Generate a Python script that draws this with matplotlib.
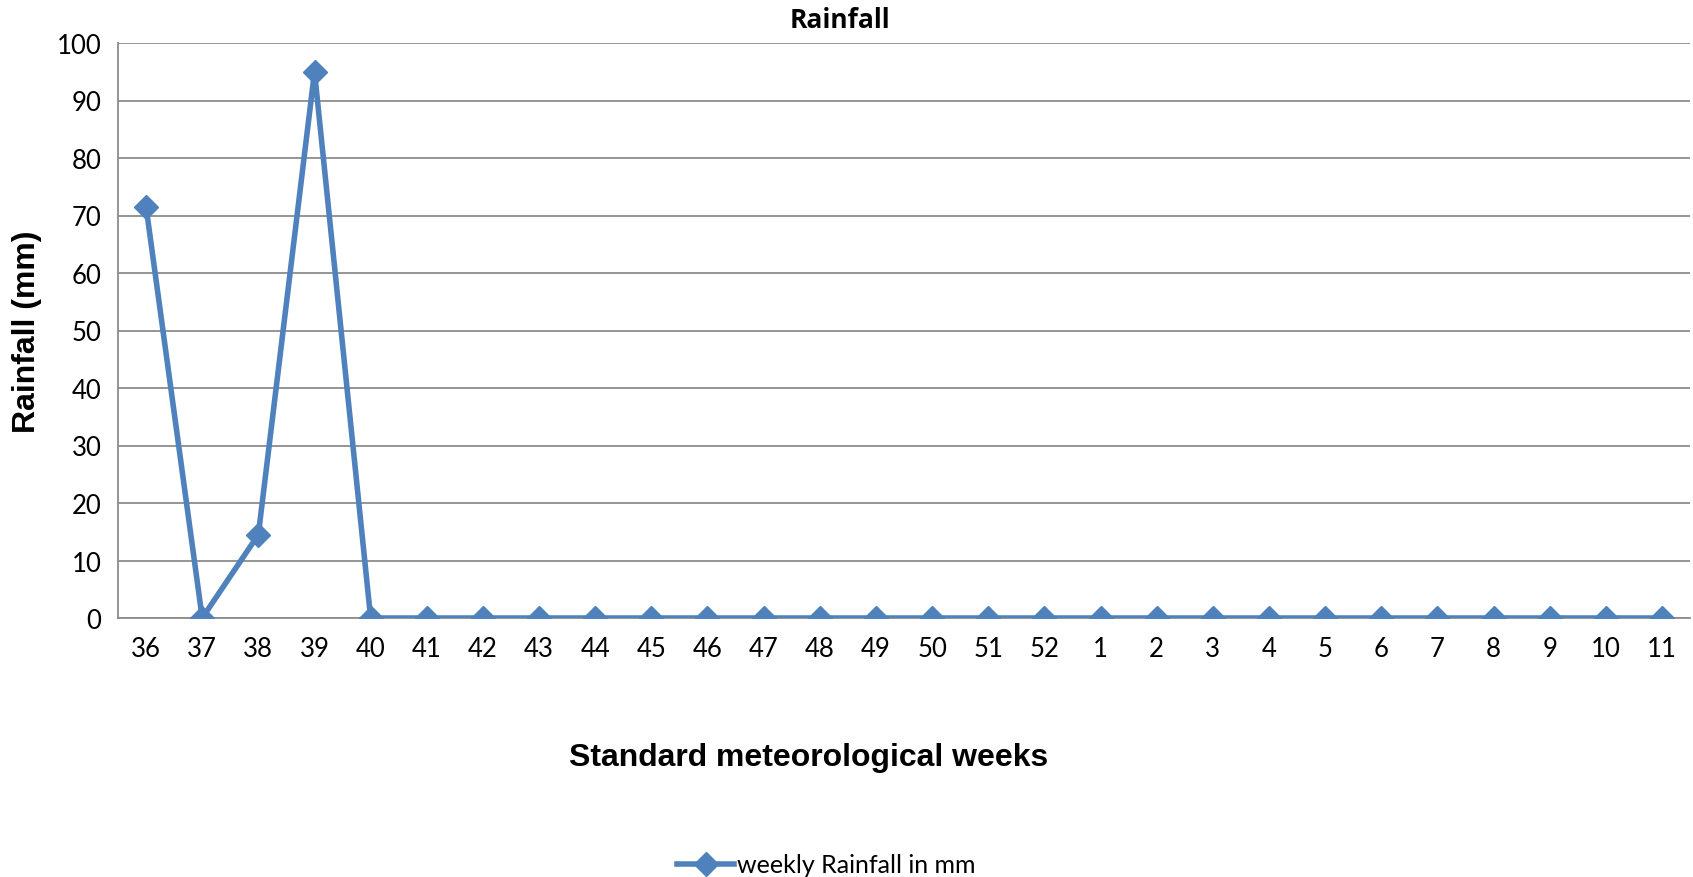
import numpy as np
import matplotlib
matplotlib.use("Agg")
import matplotlib.pyplot as plt

# Standard meteorological weeks (season runs over the new year)
weeks = [str(w) for w in range(36, 53)] + [str(w) for w in range(1, 12)]
rainfall = [71.5, 0, 14.5, 95, 0, 0, 0, 0, 0, 0, 0, 0, 0, 0,
            0, 0, 0, 0, 0, 0, 0, 0, 0, 0, 0, 0, 0, 0]
y_ticks = list(range(0, 101, 10))

line_color = "#4F81BD"
grid_color = "#8C8C8C"

fig = plt.figure(figsize=(16.93, 8.78), dpi=100)
ax = fig.add_axes([118 / 1693, 1 - 619 / 878, (1690 - 118) / 1693, (619 - 44) / 878])

x = np.arange(len(weeks))
ax.plot(x, rainfall, color=line_color, lw=4, marker="D", markersize=12,
        label="weekly Rainfall in mm", zorder=3)

ax.set_xlim(-0.5, len(weeks) - 0.5)
ax.set_ylim(0, 100)
ax.set_yticks(y_ticks)
ax.set_xticks(x)
ax.set_xticklabels(weeks)
ax.yaxis.grid(True, color=grid_color, lw=1.3)
ax.set_axisbelow(True)
ax.tick_params(length=0, labelsize=18.5, pad=12)
for lbl in ax.get_xticklabels() + ax.get_yticklabels():
    lbl.set_fontfamily("Lato")
ax.tick_params(axis="x", pad=13)

for side in ["top", "right"]:
    ax.spines[side].set_visible(False)
for side in ["left", "bottom"]:
    ax.spines[side].set_color(grid_color)
    ax.spines[side].set_linewidth(1.3)

fig.text(840 / 1693, 1 - 20 / 878, "Rainfall", ha="center", va="center",
         fontsize=19, fontweight="bold", family="Open Sans")
fig.text(27 / 1693, 1 - 332 / 878, "Rainfall (mm)", ha="center", va="center",
         rotation=90, fontsize=23, fontweight="bold", family="Liberation Sans")
fig.text(809 / 1693, 1 - 758 / 878, "Standard meteorological weeks", ha="center",
         va="center", fontsize=23, fontweight="bold", family="Liberation Sans")

leg = fig.legend(loc="center", bbox_to_anchor=(826 / 1693, 1 - 866 / 878),
                 frameon=False, prop={"family": "Lato", "size": 18},
                 handlelength=2.3, handletextpad=0.1)

fig.savefig("out.png", dpi=100)
